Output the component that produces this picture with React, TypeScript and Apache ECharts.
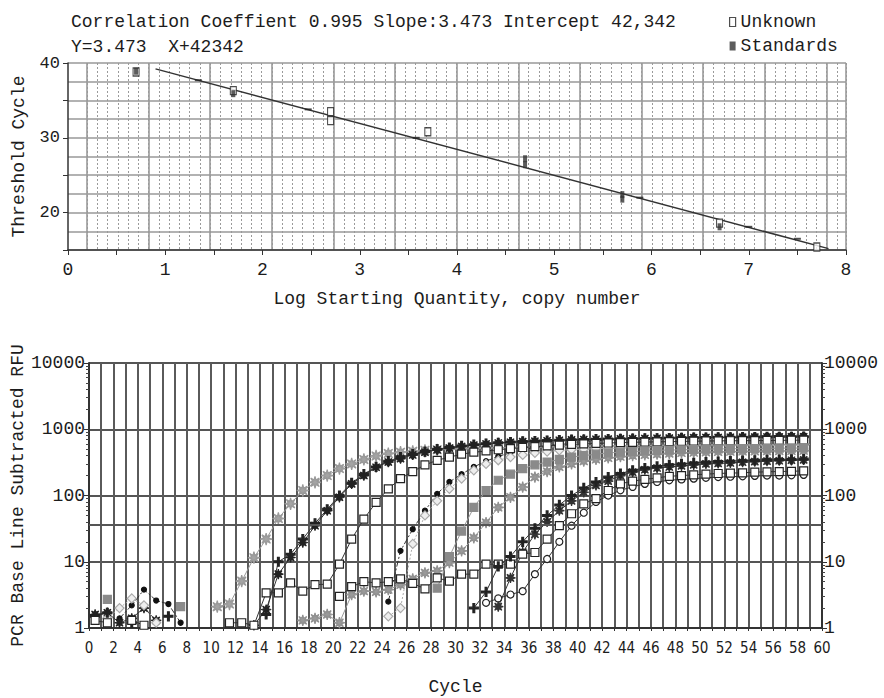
import React, { useEffect, useRef } from 'react';
import * as echarts from 'echarts';

const MONO = '"Liberation Mono", "DejaVu Sans Mono", monospace';
const NARROW = '"Liberation Sans Narrow", "DejaVu Sans Condensed", "Arial Narrow", sans-serif';
const INK = '#1c1c1c';

// ---- Standard curve (top panel) ----
const slope = -3.473;
const intercept = 42.342;
const fitRange = [0.9, 7.82];
const headerLine1 = 'Correlation Coeffient 0.995 Slope:3.473 Intercept 42,342';
const headerLine2 = 'Y=3.473  X+42342';
const unknownPoints = [[0.7, 38.8], [1.7, 36.3], [2.7, 33.5], [2.7, 32.3], [3.7, 30.8], [6.7, 18.6], [7.7, 15.4]];
const standardPoints = [[0.7, 38.9], [1.7, 35.9], [4.7, 27.2], [4.7, 26.4], [5.7, 22.4], [5.7, 21.8], [6.7, 18.1]];
const fitMarks = [[1.34, 37.7], [2.47, 33.8], [3.58, 30.0], [5.88, 22.0], [7.0, 18.1], [7.5, 16.5]];

// ---- Amplification curves (bottom panel), RFU per cycle 1..59 ----
const _ = null;
const threshold = 36;
const curveA = [
  _, _, _, _, _, _, _, _, _, _,
  2.1, 2.3, 5.1, 11.5, 22, 45, 75, 119, 158, 200,
  255, 300, 350, 395, 430, 450, 465, 480, 490, 500,
  505, 515, 520, 525, 530, 535, 540, 545, 548, 550,
  555, 558, 560, 562, 565, 568, 570, 572, 575, 575,
  578, 580, 580, 582, 585, 585, 588, 590, 590,
];
const curveB = [
  1.6, 1.7, 1.2, 1.4, 2.0, 1.3, _, _, _, _,
  _, _, _, 1.1, 1.9, 6.5, 11.6, 19.5, 35, 59,
  94, 150, 200, 267, 320, 360, 410, 450, 490, 520,
  550, 575, 600, 620, 635, 650, 660, 670, 680, 690,
  700, 705, 710, 715, 720, 725, 730, 735, 740, 745,
  750, 752, 755, 758, 760, 762, 765, 768, 770,
];
const curveC = [
  1.3, 1.2, _, 1.3, 1.1, _, _, _, _, _,
  _, 1.2, 1.2, 1.1, 3.4, 3.4, 4.8, 3.6, 4.5, 4.6,
  9.2, 22, 44, 79, 126, 180, 230, 290, 340, 380,
  420, 450, 470, 490, 510, 530, 545, 560, 575, 590,
  600, 610, 620, 630, 635, 640, 645, 650, 655, 660,
  665, 668, 670, 672, 675, 678, 680, 682, 685,
];
const curveD = [
  _, _, 1.4, 2.2, 3.8, 2.6, 2.3, 1.2, _, _,
  _, _, _, _, _, _, _, _, _, _,
  _, _, _, _, 2.5, 14.6, 31, 59, 106, 160,
  210, 270, 330, 390, 440, 490, 530, 570, 600, 630,
  650, 670, 690, 700, 715, 730, 740, 750, 760, 770,
  775, 780, 785, 790, 795, 800, 805, 810, 815,
];
const curveE = [
  _, 1.4, 2.0, 2.8, 2.2, 1.2, _, _, _, _,
  _, _, _, _, _, _, _, _, _, _,
  _, _, _, _, 1.5, 2.0, 18.6, 50, 83, 126,
  180, 240, 300, 340, 380, 410, 440, 460, 480, 490,
  500, 510, 515, 520, 525, 530, 535, 540, 545, 548,
  550, 555, 558, 560, 562, 565, 568, 570, 572,
];
const curveF = [
  _, 2.7, _, _, _, _, _, 2.1, _, _,
  _, _, _, _, _, _, _, _, _, _,
  _, _, _, _, _, _, _, _, 4.0, 12,
  29, 66, 119, 170, 210, 255, 290, 320, 350, 380,
  400, 420, 440, 450, 460, 470, 480, 485, 490, 495,
  500, 505, 508, 510, 512, 515, 518, 520, 522,
];
const curveG = [
  _, _, _, _, _, _, _, _, _, _,
  _, _, _, _, _, _, _, 1.3, 1.4, 1.6,
  1.2, 3.2, 3.6, 3.5, 3.8, 4.5, 5.5, 6.8, 7.3, 9.7,
  14.6, 23, 39, 66, 94, 134, 190, 230, 270, 300,
  330, 350, 370, 385, 400, 410, 420, 430, 440, 445,
  450, 455, 460, 462, 465, 468, 470, 472, 475,
];
const curveH = [
  _, _, _, _, _, _, _, _, _, _,
  _, _, _, _, _, _, _, _, _, _,
  _, _, _, _, _, _, _, _, _, _,
  _, _, _, 2.1, 5.7, 14, 26, 40, 59, 83,
  112, 142, 165, 200, 225, 245, 260, 270, 280, 290,
  300, 305, 310, 318, 325, 330, 335, 340, 345,
];
const curveI = [
  _, _, _, _, _, _, _, _, _, _,
  _, _, _, _, _, _, _, _, _, _,
  3.0, 4.2, 5.0, 4.8, 5.0, 5.5, 4.7, 3.9, 5.7, 5.1,
  6.5, 6.5, 9.2, 9.2, 9.2, 13, 13.8, 22, 35, 53,
  75, 90, 119, 150, 165, 175, 185, 195, 200, 205,
  210, 215, 218, 220, 225, 228, 230, 232, 235,
];
const curveJ = [
  _, _, _, _, _, _, _, _, _, _,
  _, _, _, _, _, _, _, _, _, _,
  _, _, _, _, _, _, _, _, _, _,
  _, _, 2.4, 2.8, 3.2, 3.6, 6.5, 11, 20, 35,
  55, 80, 100, 120, 135, 150, 160, 170, 175, 180,
  185, 190, 192, 195, 198, 200, 200, 202, 205,
];
const curveK = [
  1.5, 1.7, _, 1.2, _, _, 1.5, _, _, _,
  _, _, _, _, 1.6, 10, 13, 22, 38, 62,
  100, 155, 210, 270, 330, 380, 420, 460, 500, 530,
  560, 585, 605, 625, 640, 655, 665, 675, 685, 695,
  700, 708, 712, 718, 722, 728, 732, 738, 742, 746,
  750, 754, 756, 760, 762, 765, 768, 770, 772,
];
const curveL = [
  _, _, _, _, _, _, _, _, _, _,
  _, _, _, _, _, _, _, _, _, _,
  _, _, _, _, _, _, _, _, _, _,
  _, 2.0, 3.5, 8.5, 12, 20, 32, 50, 72, 100,
  130, 160, 190, 215, 240, 260, 275, 290, 300, 310,
  318, 325, 330, 335, 340, 345, 348, 350, 355,
];

const STAR = 'path://M10,5L6.85,5.77L8.54,8.54L5.77,6.85L5,10L4.23,6.85L1.46,8.54L3.15,5.77L0,5L3.15,4.23L1.46,1.46L4.23,3.15L5,0L5.77,3.15L8.54,1.46L6.85,4.23Z';
const PLUS = 'path://M4,0H6V4H10V6H6V10H4V6H0V4H4Z';

// Marker and line styling for each curve
const curveStyles = [
  { data: curveA, symbol: STAR, size: 12, fill: '#a4a4a4', border: '#999', line: '#9a9a9a', dash: 'solid' },
  { data: curveB, symbol: STAR, size: 10, fill: '#222', border: '#222', line: '#333', dash: 'solid' },
  { data: curveC, symbol: 'rect', size: 8, fill: '#fff', border: '#222', line: '#333', dash: 'solid' },
  { data: curveD, symbol: 'circle', size: 5, fill: '#111', border: '#111', line: '#333', dash: [6, 2, 2, 2] },
  { data: curveE, symbol: 'diamond', size: 9, fill: '#eee', border: '#aaa', line: '#aaa', dash: [2, 2] },
  { data: curveF, symbol: 'rect', size: 8, fill: '#8a8a8a', border: '#8a8a8a', line: '#999', dash: 'solid' },
  { data: curveG, symbol: STAR, size: 11, fill: '#9a9a9a', border: '#909090', line: '#999', dash: 'solid' },
  { data: curveH, symbol: STAR, size: 10, fill: '#333', border: '#333', line: '#333', dash: 'solid' },
  { data: curveI, symbol: 'rect', size: 8, fill: '#fff', border: '#222', line: '#333', dash: 'solid' },
  { data: curveJ, symbol: 'circle', size: 7, fill: '#fff', border: '#222', line: '#333', dash: 'solid' },
  { data: curveK, symbol: PLUS, size: 9, fill: '#222', border: '#222', line: '#333', dash: 'solid' },
  { data: curveL, symbol: PLUS, size: 9, fill: '#222', border: '#222', line: '#333', dash: 'solid' },
];

// cycle n occupies the interval [n-1, n] on the cycle axis
const toPoints = (vals: (number | null)[]) => vals.map((v, i) => [i + 0.5, v]);

const fitLine = fitRange.map((x) => [x, intercept + slope * x]);

export default function App() {
  const ref = useRef<HTMLDivElement>(null);

  useEffect(() => {
    if (!ref.current) return;
    const chart = echarts.init(ref.current, undefined, { renderer: 'svg' });

    const hidden = {
      axisLine: { show: false },
      axisTick: { show: false },
      axisLabel: { show: false },
    };

    const curveSeries = curveStyles.map((c, i) => ({
      type: 'line',
      xAxisIndex: 3,
      yAxisIndex: 2,
      data: toPoints(c.data),
      symbol: c.symbol,
      symbolSize: c.size,
      showAllSymbol: true,
      silent: true,
      z: 3 + (i % 3),
      itemStyle: { color: c.fill, borderColor: c.border, borderWidth: 1.2 },
      lineStyle: { color: c.line, width: 1, type: c.dash },
      emphasis: { disabled: true },
      ...(i === 0
        ? {
            markLine: {
              silent: true,
              symbol: 'none',
              label: { show: false },
              lineStyle: { color: '#555', width: 2, type: 'solid' },
              data: [{ yAxis: threshold }],
            },
          }
        : {}),
    }));

    const plain = (v: number) => String(Math.round(v));

    chart.setOption({
      animation: false,
      backgroundColor: '#fff',
      title: [
        { text: headerLine1, left: 66, top: 8, textStyle: { fontFamily: MONO, fontSize: 18, fontWeight: 'normal', color: INK } },
        { text: headerLine2, left: 66, top: 33, textStyle: { fontFamily: MONO, fontSize: 18, fontWeight: 'normal', color: INK } },
      ],
      legend: {
        left: 724,
        top: 8,
        orient: 'vertical',
        itemWidth: 6,
        itemHeight: 9,
        itemGap: 6,
        textStyle: { fontFamily: MONO, fontSize: 18, color: INK },
        data: [
          { name: 'Unknown', icon: 'rect', itemStyle: { color: '#fff', borderColor: '#222', borderWidth: 1.2 } },
          { name: 'Standards', icon: 'rect', itemStyle: { color: '#333' } },
        ],
        selectedMode: false,
      },
      grid: [
        { left: 68, top: 63, width: 778, height: 187, outerBoundsMode: 'none', containLabel: false },
        { left: 87, top: 63, width: 759, height: 187, outerBoundsMode: 'none', containLabel: false },
        { left: 89, top: 363, width: 733, height: 265, outerBoundsMode: 'none', containLabel: false },
      ],
      xAxis: [
        {
          type: 'value', gridIndex: 0, min: 0, max: 8, interval: 1, z: 3,
          axisLine: { lineStyle: { color: '#333', width: 1.5 } },
          axisTick: { length: 5, lineStyle: { color: '#333' } },
          minorTick: { show: true, splitNumber: 2, length: 5, lineStyle: { color: '#333' } },
          axisLabel: { fontFamily: MONO, fontSize: 18, color: INK, margin: 11 },
          splitLine: { show: false },
          name: 'Log Starting Quantity, copy number',
          nameLocation: 'middle',
          nameGap: 40,
          nameTextStyle: { fontFamily: MONO, fontSize: 18, color: INK },
        },
        {
          type: 'value', gridIndex: 1, min: 0, max: 73.9, interval: 1, z: 0, ...hidden,
          splitLine: { show: true, lineStyle: { color: '#9a9a9a', width: 1, type: [2, 2] } },
        },
        {
          type: 'value', gridIndex: 1, min: 0, max: 12.32, interval: 1, z: 1, ...hidden,
          splitLine: { show: true, lineStyle: { color: '#9a9a9a', width: 1.6 } },
        },
        {
          type: 'value', gridIndex: 2, min: 0, max: 60, interval: 1, z: 3,
          axisLine: { lineStyle: { color: '#333', width: 2 } },
          axisTick: { length: 3, lineStyle: { color: '#333' } },
          axisLabel: {
            fontFamily: NARROW, fontSize: 15, color: INK, margin: 12,
            formatter: (v: number) => (v % 2 === 0 ? String(v) : ''),
          },
          splitLine: { show: true, lineStyle: { color: '#5a5a5a', width: 2 } },
          name: 'Cycle',
          nameLocation: 'middle',
          nameGap: 50,
          nameTextStyle: { fontFamily: MONO, fontSize: 18, color: INK },
        },
      ],
      yAxis: [
        {
          type: 'value', gridIndex: 0, min: 15, max: 40, interval: 5, z: 2,
          axisLine: { show: true, lineStyle: { color: '#333', width: 1.5 } },
          axisTick: { show: true, length: 5, lineStyle: { color: '#333' } },
          axisLabel: {
            fontFamily: MONO, fontSize: 17, color: INK, margin: 8,
            formatter: (v: number) => (v % 10 === 0 ? String(v) : ''),
          },
          splitLine: { show: true, lineStyle: { color: '#999', width: 1.6 } },
          minorTick: { show: false, splitNumber: 2 },
          minorSplitLine: { show: true, lineStyle: { color: '#999', width: 1.6 } },
          name: 'Threshold Cycle',
          nameLocation: 'middle',
          nameGap: 40,
          nameTextStyle: { fontFamily: MONO, fontSize: 18, color: INK },
        },
        { type: 'value', gridIndex: 1, min: 0, max: 1, show: false },
        {
          type: 'log', gridIndex: 2, logBase: 10, min: 1, max: 10000, z: 3,
          axisLine: { show: true, lineStyle: { color: '#333', width: 2 } },
          axisTick: { show: true, length: 5, lineStyle: { color: '#333' } },
          minorTick: { show: true, splitNumber: 9, length: 3, lineStyle: { color: '#444' } },
          axisLabel: { fontFamily: MONO, fontSize: 18, color: INK, margin: 4, formatter: plain },
          splitLine: { show: true, lineStyle: { color: '#555', width: 2 } },
          name: 'PCR Base Line Subtracted RFU',
          nameLocation: 'middle',
          nameGap: 62,
          nameMoveOverlap: false,
          nameTextStyle: { fontFamily: MONO, fontSize: 18, color: INK },
        },
        {
          type: 'log', gridIndex: 2, logBase: 10, min: 1, max: 10000, position: 'right', z: 3,
          axisLine: { show: true, lineStyle: { color: '#333', width: 2 } },
          axisTick: { show: true, length: 5, lineStyle: { color: '#333' } },
          minorTick: { show: true, splitNumber: 9, length: 3, lineStyle: { color: '#444' } },
          axisLabel: { fontFamily: MONO, fontSize: 18, color: INK, margin: 2, formatter: plain },
          splitLine: { show: false },
        },
      ],
      series: [
        {
          name: 'Fit',
          type: 'line',
          xAxisIndex: 0,
          yAxisIndex: 0,
          data: fitLine,
          symbol: 'none',
          silent: true,
          lineStyle: { color: '#333', width: 1.5 },
          z: 4,
        },
        {
          name: 'Fit marks',
          type: 'scatter',
          xAxisIndex: 0,
          yAxisIndex: 0,
          data: fitMarks,
          symbol: 'rect',
          symbolSize: [7, 2],
          silent: true,
          itemStyle: { color: '#222' },
          z: 5,
        },
        {
          name: 'Unknown',
          type: 'scatter',
          xAxisIndex: 0,
          yAxisIndex: 0,
          data: unknownPoints,
          symbol: 'rect',
          symbolSize: [6, 8],
          silent: true,
          itemStyle: { color: '#fff', borderColor: '#222', borderWidth: 1.2 },
          z: 5,
        },
        {
          name: 'Standards',
          type: 'scatter',
          xAxisIndex: 0,
          yAxisIndex: 0,
          data: standardPoints,
          symbol: 'rect',
          symbolSize: [4, 7],
          silent: true,
          itemStyle: { color: '#333' },
          z: 6,
        },
        ...curveSeries,
      ],
    });

    return () => chart.dispose();
  }, []);

  return (
    <div
      ref={ref}
      style={{ position: 'fixed', left: 0, top: 0, width: 884, height: 698, background: '#fff' }}
    />
  );
}
